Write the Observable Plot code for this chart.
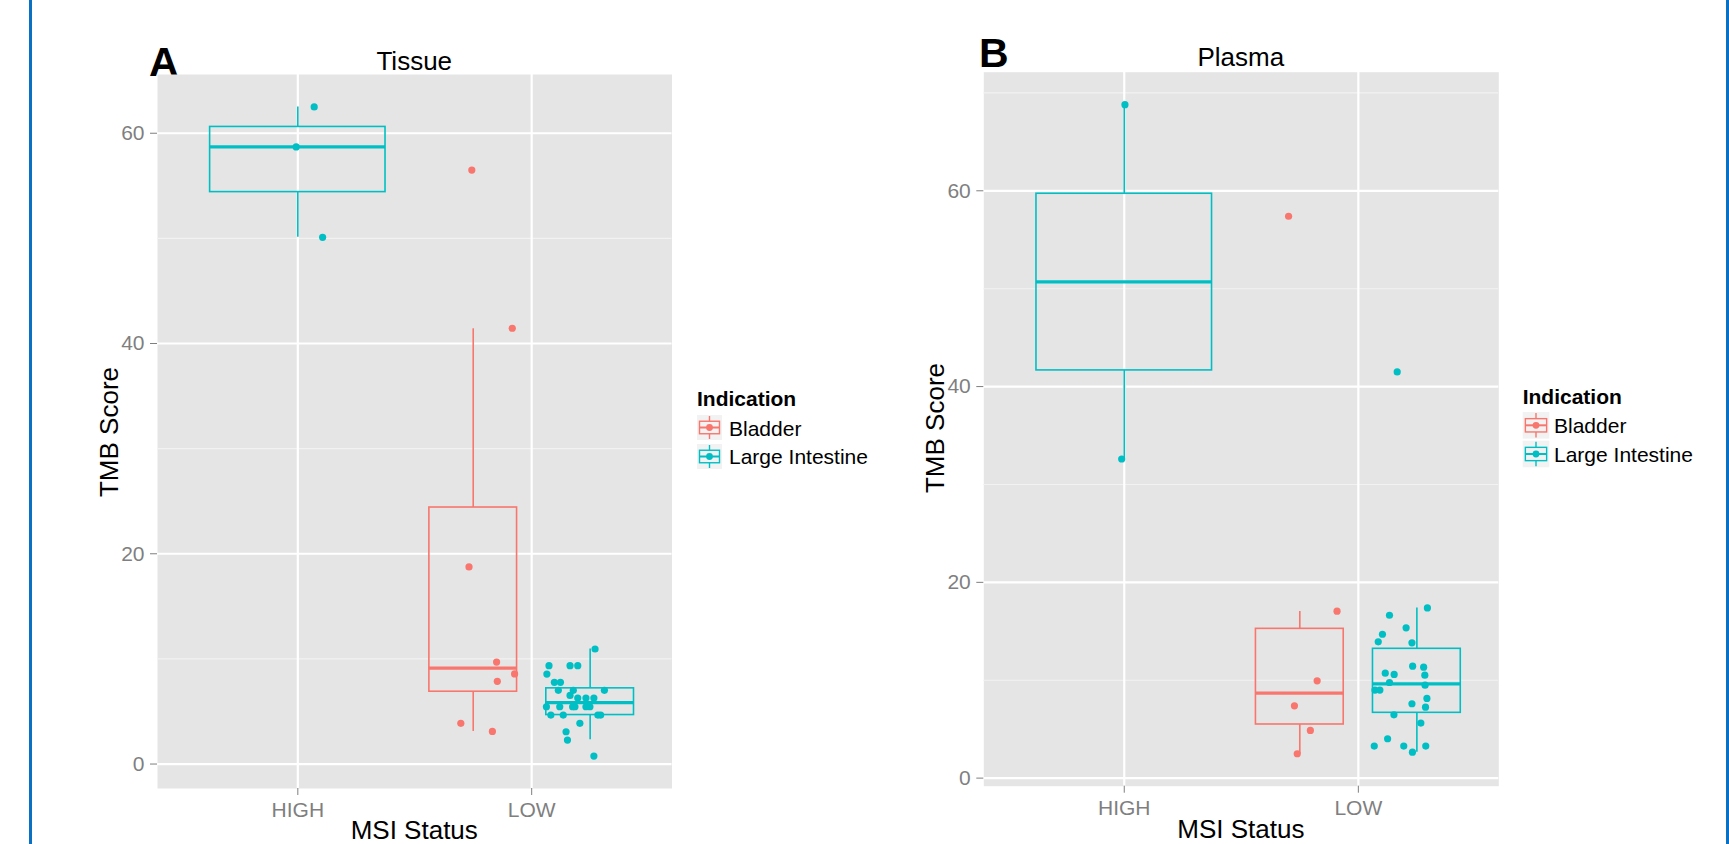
<!DOCTYPE html>
<html><head><meta charset="utf-8">
<script src="https://cdn.jsdelivr.net/npm/d3@7"></script>
<script src="https://cdn.jsdelivr.net/npm/@observablehq/plot@0.6"></script>
<style>
body{margin:0;background:#fff;}
#root{position:relative;width:1729px;height:844px;overflow:hidden;background:#fff;}
#root > svg{position:absolute;top:0;}
.border{position:absolute;top:0;height:844px;width:3.5px;background:#0a70c4;}
</style></head><body><div id="root"></div>
<script>
// ---------- data ----------
const categories = ["HIGH", "LOW"];
const indications = ["Bladder", "Large Intestine"];
const colors = ["#F8766D", "#00BFC4"];
const yTicks = [0, 20, 40, 60];
const minorTicks = [10, 30, 50, 70];
const panelTitles = ["Tissue", "Plasma"];
const panelLetters = ["A", "B"];
const xTitle = "MSI Status";
const yTitle = "TMB Score";
const legendTitle = "Indication";

// box statistics: [MSI, indication, lower whisker, Q1, median, Q3, upper whisker]
const tissueBoxes = [
  ["HIGH", "Large Intestine", 50.1, 54.4, 58.7, 60.6, 62.5],
  ["LOW", "Bladder", 3.1, 6.88, 9.12, 24.4, 41.4],
  ["LOW", "Large Intestine", 2.3, 4.66, 5.85, 7.2, 10.95]
];
// points: [MSI, indication, jitter (category units), TMB score]
const tissuePoints = [
  ["HIGH", "Large Intestine", 0.070, 62.5], ["HIGH", "Large Intestine", -0.007, 58.7], ["HIGH", "Large Intestine", 0.106, 50.1],
  ["LOW", "Bladder", -0.256, 56.5], ["LOW", "Bladder", -0.083, 41.45], ["LOW", "Bladder", -0.268, 18.75],
  ["LOW", "Bladder", -0.150, 9.7], ["LOW", "Bladder", -0.073, 8.57], ["LOW", "Bladder", -0.147, 7.87],
  ["LOW", "Bladder", -0.303, 3.87], ["LOW", "Bladder", -0.168, 3.1],
  ["LOW", "Large Intestine", 0.271, 10.94], ["LOW", "Large Intestine", 0.074, 9.36], ["LOW", "Large Intestine", 0.164, 9.36],
  ["LOW", "Large Intestine", 0.197, 9.36], ["LOW", "Large Intestine", 0.065, 8.56], ["LOW", "Large Intestine", 0.097, 7.77],
  ["LOW", "Large Intestine", 0.123, 7.77], ["LOW", "Large Intestine", 0.114, 7.01], ["LOW", "Large Intestine", 0.178, 7.01],
  ["LOW", "Large Intestine", 0.311, 7.01], ["LOW", "Large Intestine", 0.164, 6.53], ["LOW", "Large Intestine", 0.197, 6.28],
  ["LOW", "Large Intestine", 0.232, 6.28], ["LOW", "Large Intestine", 0.266, 6.28], ["LOW", "Large Intestine", 0.063, 5.45],
  ["LOW", "Large Intestine", 0.120, 5.45], ["LOW", "Large Intestine", 0.175, 5.45], ["LOW", "Large Intestine", 0.185, 5.45],
  ["LOW", "Large Intestine", 0.232, 5.45], ["LOW", "Large Intestine", 0.249, 5.45], ["LOW", "Large Intestine", 0.082, 4.66],
  ["LOW", "Large Intestine", 0.135, 4.66], ["LOW", "Large Intestine", 0.283, 4.66], ["LOW", "Large Intestine", 0.295, 4.66],
  ["LOW", "Large Intestine", 0.206, 3.87], ["LOW", "Large Intestine", 0.147, 3.07], ["LOW", "Large Intestine", 0.153, 2.28],
  ["LOW", "Large Intestine", 0.266, 0.76]
];

const plasmaBoxes = [
  ["HIGH", "Large Intestine", 32.6, 41.65, 50.7, 59.7, 68.8],
  ["LOW", "Bladder", 2.49, 5.48, 8.68, 15.25, 17.03],
  ["LOW", "Large Intestine", 2.65, 6.67, 9.63, 13.21, 17.38]
];
const plasmaPoints = [
  ["HIGH", "Large Intestine", 0.003, 68.8], ["HIGH", "Large Intestine", -0.011, 32.6],
  ["LOW", "Bladder", -0.298, 57.4], ["LOW", "Bladder", -0.091, 17.05], ["LOW", "Bladder", -0.176, 9.94],
  ["LOW", "Bladder", -0.273, 7.39], ["LOW", "Bladder", -0.205, 4.87], ["LOW", "Bladder", -0.261, 2.49],
  ["LOW", "Large Intestine", 0.166, 41.5], ["LOW", "Large Intestine", 0.295, 17.39], ["LOW", "Large Intestine", 0.133, 16.64],
  ["LOW", "Large Intestine", 0.204, 15.35], ["LOW", "Large Intestine", 0.103, 14.7], ["LOW", "Large Intestine", 0.085, 13.92],
  ["LOW", "Large Intestine", 0.229, 13.82], ["LOW", "Large Intestine", 0.232, 11.44], ["LOW", "Large Intestine", 0.279, 11.33],
  ["LOW", "Large Intestine", 0.115, 10.72], ["LOW", "Large Intestine", 0.153, 10.59], ["LOW", "Large Intestine", 0.284, 10.52],
  ["LOW", "Large Intestine", 0.133, 9.77], ["LOW", "Large Intestine", 0.285, 9.5], ["LOW", "Large Intestine", 0.071, 8.99],
  ["LOW", "Large Intestine", 0.092, 8.99], ["LOW", "Large Intestine", 0.293, 8.14], ["LOW", "Large Intestine", 0.229, 7.6],
  ["LOW", "Large Intestine", 0.287, 7.25], ["LOW", "Large Intestine", 0.152, 6.47], ["LOW", "Large Intestine", 0.267, 5.62],
  ["LOW", "Large Intestine", 0.125, 4.02], ["LOW", "Large Intestine", 0.068, 3.27], ["LOW", "Large Intestine", 0.194, 3.27],
  ["LOW", "Large Intestine", 0.288, 3.27], ["LOW", "Large Intestine", 0.231, 2.65]
];

// ---------- layout ----------
const FONT = '"Liberation Sans", Arial, Helvetica, sans-serif';
const root = document.getElementById("root");
const panels = [
  {boxes: tissueBoxes, points: tissuePoints, left: 0, width: 870, mL: 157, mR: 198.5, mT: 74, mB: 56,
   letter: [149, 75.5], title: 70, yTitleX: 117.5, yTitleY: 432, xTitleY: 839,
   legend: {x: 697, titleY: 406, keyY: [415, 444], key: 25, labelX: 729, labelY: [435.7, 464]}},
  {boxes: plasmaBoxes, points: plasmaPoints, left: 870, width: 859, mL: 113.3, mR: 230.7, mT: 71.7, mB: 58.3,
   letter: [979, 66.5], title: 66, yTitleX: 944, yTitleY: 428, xTitleY: 838,
   legend: {x: 1522.7, titleY: 404, keyY: [412, 440.7], key: 26.6, labelX: 1554, labelY: [433.3, 461.7]}}
];

// underlay (panel letters sit partly beneath the panel background)
const under = d3.select(root).append("svg").attr("width", 1729).attr("height", 844).style("left", "0px");
panels.forEach((p, k) => {
  under.append("text").attr("x", p.letter[0]).attr("y", p.letter[1])
    .attr("font-family", FONT).attr("font-weight", "bold").attr("font-size", 41).attr("fill", "#000")
    .text(panelLetters[k]);
});

function prepare(boxStats, pts) {
  const values = pts.map(d => d[3]).concat(boxStats.flatMap(d => [d[2], d[6]]));
  const [lo, hi] = d3.extent(values);
  const pad = (hi - lo) * 0.05;
  const domain = [lo - pad, hi + pad];
  const boxes = boxStats.map(d => {
    const group = boxStats.filter(e => e[0] === d[0]);
    const n = group.length, i = group.indexOf(d);
    const c = categories.indexOf(d[0]) + 1 + (i - (n - 1) / 2) * 0.5;
    const w = 0.75 / n;
    return {ind: d[1], cx: c, x1: c - w / 2, x2: c + w / 2, lo: d[2], q1: d[3], med: d[4], q3: d[5], hi: d[6]};
  });
  const dots = pts.map(d => ({ind: d[1], x: categories.indexOf(d[0]) + 1 + d[2], y: d[3]}));
  return {domain, boxes, dots};
}

panels.forEach((p, k) => {
  const {domain, boxes, dots} = prepare(p.boxes, p.points);
  const chart = Plot.plot({
    width: p.width, height: 844,
    marginLeft: p.mL, marginRight: p.mR, marginTop: p.mT, marginBottom: p.mB,
    style: {background: "none", fontFamily: FONT, overflow: "visible"},
    x: {domain: [0.4, 2.6]},
    y: {domain},
    color: {domain: indications, range: colors},
    marks: [
      Plot.frame({fill: "#E5E5E5", stroke: "none"}),
      Plot.ruleY(minorTicks.filter(t => t > domain[0] && t < domain[1]), {stroke: "#F2F2F2", strokeWidth: 1.1}),
      Plot.ruleY(yTicks, {stroke: "#FFFFFF", strokeWidth: 2.2}),
      Plot.ruleX([1, 2], {stroke: "#FFFFFF", strokeWidth: 2.2}),
      Plot.axisY({ticks: yTicks, tickSize: 7, tickPadding: 6, fontSize: 21, color: "#7F7F7F", label: null}),
      Plot.axisX({ticks: [1, 2], tickFormat: d => categories[d - 1], tickSize: 7, tickPadding: 7, fontSize: 21, color: "#7F7F7F", label: null}),
      Plot.ruleX(boxes, {x: "cx", y1: "q3", y2: "hi", stroke: "ind", strokeWidth: 1.6}),
      Plot.ruleX(boxes, {x: "cx", y1: "lo", y2: "q1", stroke: "ind", strokeWidth: 1.6}),
      Plot.rect(boxes, {x1: "x1", x2: "x2", y1: "q1", y2: "q3", fill: "none", stroke: "ind", strokeWidth: 1.6}),
      Plot.ruleY(boxes, {x1: "x1", x2: "x2", y: "med", stroke: "ind", strokeWidth: 3.2}),
      Plot.dot(dots, {x: "x", y: "y", r: 3.6, fill: "ind", stroke: "none"})
    ]
  });
  chart.style.position = "absolute";
  chart.style.left = p.left + "px";
  chart.style.top = "0px";
  root.appendChild(chart);
});

// overlay: titles, axis titles, legends
const over = d3.select(root).append("svg").attr("width", 1729).attr("height", 844).style("left", "0px")
  .attr("font-family", FONT);
panels.forEach((p, k) => {
  const x0 = p.left + p.mL, x1 = p.left + p.width - p.mR, cx = (x0 + x1) / 2;
  over.append("text").attr("x", cx).attr("y", p.title).attr("text-anchor", "middle").attr("font-size", 26).text(panelTitles[k]);
  over.append("text").attr("x", cx).attr("y", p.xTitleY).attr("text-anchor", "middle").attr("font-size", 26).text(xTitle);
  over.append("text").attr("transform", `translate(${p.yTitleX},${p.yTitleY}) rotate(-90)`)
    .attr("text-anchor", "middle").attr("font-size", 26).text(yTitle);
  const L = p.legend;
  over.append("text").attr("x", L.x).attr("y", L.titleY).attr("font-size", 21).attr("font-weight", "bold").text(legendTitle);
  indications.forEach((name, i) => {
    const g = over.append("g").attr("transform", `translate(${L.x},${L.keyY[i]})`);
    const s = L.key, c = colors[i];
    g.append("rect").attr("width", s).attr("height", s).attr("fill", "#F2F2F2");
    g.append("line").attr("x1", s / 2).attr("x2", s / 2).attr("y1", s * 0.04).attr("y2", s * 0.25).attr("stroke", c).attr("stroke-width", 1.4);
    g.append("line").attr("x1", s / 2).attr("x2", s / 2).attr("y1", s * 0.75).attr("y2", s * 0.96).attr("stroke", c).attr("stroke-width", 1.4);
    g.append("rect").attr("x", s * 0.1).attr("y", s * 0.25).attr("width", s * 0.8).attr("height", s * 0.5)
      .attr("fill", "none").attr("stroke", c).attr("stroke-width", 1.4);
    g.append("line").attr("x1", s * 0.1).attr("x2", s * 0.9).attr("y1", s / 2).attr("y2", s / 2).attr("stroke", c).attr("stroke-width", 2);
    g.append("circle").attr("cx", s / 2).attr("cy", s / 2).attr("r", 3.4).attr("fill", c);
    over.append("text").attr("x", L.labelX).attr("y", L.labelY[i]).attr("font-size", 21).text(name);
  });
});

// frame borders
const bl = document.createElement("div"); bl.className = "border"; bl.style.left = "28.5px"; root.appendChild(bl);
const br = document.createElement("div"); br.className = "border"; br.style.left = "1725.5px"; root.appendChild(br);
</script>
</body></html>
